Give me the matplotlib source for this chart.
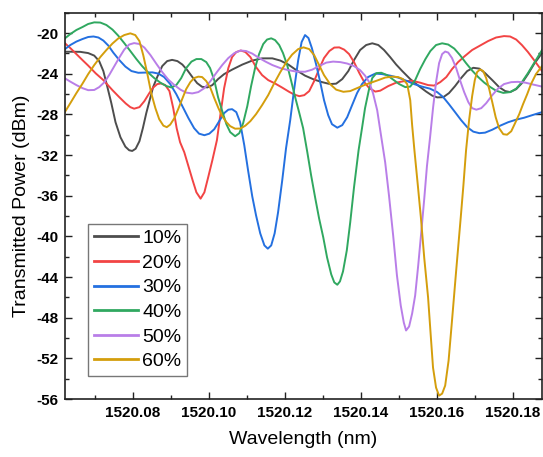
import numpy as np
import matplotlib
matplotlib.use("Agg")
import matplotlib.pyplot as plt
from matplotlib.ticker import MultipleLocator, FormatStrFormatter

plt.rcParams['font.family'] = ['Liberation Sans', 'DejaVu Sans']
plt.rcParams['axes.unicode_minus'] = False

BASE = 1520.0
labels = ["10%", "20%", "30%", "40%", "50%", "60%"]
colors = ["#4d4d4d", "#f24444", "#2470e0", "#30a860", "#b97ee8", "#d49e0c"]

# wavelength offsets from 1520 nm and transmitted power (dBm)
w10 = [0.0621, 0.0640, 0.0661, 0.0682, 0.0698, 0.0711, 0.0722, 0.0732, 0.0743, 0.0754, 0.0767, 0.0780,
       0.0790, 0.0798, 0.0807, 0.0817, 0.0826, 0.0835, 0.0844, 0.0853, 0.0864, 0.0877, 0.0890, 0.0903,
       0.0917, 0.0930, 0.0943, 0.0956, 0.0969, 0.0982, 0.0996, 0.1009, 0.1024, 0.1040, 0.1061, 0.1088,
       0.1114, 0.1140, 0.1167, 0.1188, 0.1209, 0.1230, 0.1253, 0.1277, 0.1298, 0.1319, 0.1335, 0.1351,
       0.1367, 0.1382, 0.1398, 0.1414, 0.1430, 0.1446, 0.1461, 0.1477, 0.1493, 0.1509, 0.1530, 0.1551,
       0.1572, 0.1588, 0.1601, 0.1617, 0.1632, 0.1648, 0.1664, 0.1680, 0.1696, 0.1712, 0.1727, 0.1746,
       0.1764, 0.1780, 0.1793, 0.1809, 0.1824, 0.1840, 0.1856, 0.1877]
p10 = [-21.84, -21.84, -21.85, -21.97, -22.22, -22.76, -23.74, -25.22, -26.90, -28.77, -30.25, -31.18,
       -31.53, -31.60, -31.38, -30.64, -29.36, -27.88, -26.60, -25.32, -24.31, -23.25, -22.76, -22.64,
       -22.76, -23.10, -23.65, -24.31, -24.93, -25.29, -25.35, -25.12, -24.53, -24.04, -23.60, -23.10,
       -22.71, -22.49, -22.49, -22.71, -23.10, -23.65, -24.19, -24.58, -24.83, -25.02, -24.98, -24.53,
       -23.74, -22.66, -21.67, -21.18, -21.01, -21.18, -21.67, -22.36, -23.10, -23.74, -24.53, -25.17,
       -25.76, -26.16, -26.33, -26.31, -25.91, -25.22, -24.43, -23.74, -23.42, -23.50, -23.94, -24.63,
       -25.32, -25.71, -25.81, -25.52, -24.93, -24.04, -23.05, -21.97]

w20 = [0.0621, 0.0635, 0.0651, 0.0667, 0.0682, 0.0702, 0.0722, 0.0746, 0.0764, 0.0781, 0.0793, 0.0803,
       0.0817, 0.0830, 0.0843, 0.0853, 0.0864, 0.0874, 0.0885, 0.0896, 0.0906, 0.0915, 0.0924, 0.0935,
       0.0946, 0.0957, 0.0967, 0.0978, 0.0988, 0.0998, 0.1009, 0.1021, 0.1030, 0.1040, 0.1051, 0.1061,
       0.1072, 0.1084, 0.1096, 0.1109, 0.1124, 0.1140, 0.1156, 0.1174, 0.1193, 0.1211, 0.1225, 0.1238,
       0.1251, 0.1264, 0.1277, 0.1290, 0.1303, 0.1317, 0.1330, 0.1343, 0.1356, 0.1369, 0.1382, 0.1396,
       0.1409, 0.1422, 0.1438, 0.1451, 0.1472, 0.1493, 0.1514, 0.1535, 0.1556, 0.1577, 0.1593, 0.1609,
       0.1625, 0.1640, 0.1656, 0.1672, 0.1693, 0.1714, 0.1735, 0.1756, 0.1777, 0.1793, 0.1809, 0.1824,
       0.1840, 0.1856, 0.1877]
p20 = [-21.01, -21.48, -22.07, -22.66, -23.20, -23.97, -24.63, -25.62, -26.31, -26.93, -27.29, -27.44,
       -27.29, -26.70, -25.91, -25.37, -25.02, -24.96, -25.12, -25.71, -27.39, -29.36, -30.74, -31.72,
       -33.10, -34.48, -35.67, -36.29, -35.67, -34.19, -32.51, -30.54, -28.08, -25.42, -23.45, -22.36,
       -21.87, -21.72, -21.87, -22.36, -23.35, -24.14, -24.63, -24.96, -25.37, -25.78, -26.06, -26.21,
       -26.11, -25.71, -24.73, -23.55, -22.46, -21.77, -21.43, -21.41, -21.63, -22.07, -22.86, -23.94,
       -24.83, -25.42, -25.76, -25.67, -25.22, -24.88, -24.73, -24.70, -24.88, -25.12, -25.17, -24.83,
       -24.33, -23.55, -22.86, -22.32, -21.67, -21.23, -20.79, -20.44, -20.30, -20.34, -20.64, -21.18,
       -21.87, -22.66, -23.74]

w30 = [0.0621, 0.0635, 0.0651, 0.0667, 0.0682, 0.0696, 0.0709, 0.0722, 0.0735, 0.0748, 0.0764, 0.0780,
       0.0796, 0.0814, 0.0832, 0.0851, 0.0867, 0.0882, 0.0898, 0.0914, 0.0930, 0.0946, 0.0961, 0.0974,
       0.0988, 0.1001, 0.1014, 0.1027, 0.1040, 0.1051, 0.1061, 0.1072, 0.1082, 0.1093, 0.1103, 0.1114,
       0.1124, 0.1135, 0.1146, 0.1155, 0.1164, 0.1173, 0.1182, 0.1193, 0.1203, 0.1214, 0.1224, 0.1235,
       0.1244, 0.1253, 0.1262, 0.1271, 0.1282, 0.1293, 0.1303, 0.1314, 0.1324, 0.1338, 0.1351, 0.1364,
       0.1377, 0.1390, 0.1403, 0.1419, 0.1438, 0.1456, 0.1477, 0.1498, 0.1519, 0.1540, 0.1561, 0.1582,
       0.1601, 0.1617, 0.1632, 0.1648, 0.1664, 0.1680, 0.1696, 0.1712, 0.1727, 0.1746, 0.1767, 0.1788,
       0.1809, 0.1830, 0.1851, 0.1877]
p30 = [-21.58, -21.18, -20.84, -20.59, -20.39, -20.34, -20.44, -20.74, -21.23, -21.92, -22.66, -23.30,
       -23.74, -23.91, -23.89, -23.87, -23.99, -24.33, -25.02, -26.01, -27.19, -28.37, -29.36, -29.90,
       -30.05, -29.90, -29.46, -28.67, -27.88, -27.54, -27.49, -27.78, -28.77, -31.03, -33.50, -36.06,
       -37.93, -39.70, -40.89, -41.21, -40.89, -39.70, -37.64, -34.48, -31.33, -28.57, -25.62, -22.66,
       -20.89, -20.20, -20.49, -21.48, -23.05, -24.83, -26.60, -28.08, -28.97, -29.31, -29.06, -28.28,
       -27.09, -25.91, -25.02, -24.33, -23.99, -24.04, -24.19, -24.38, -24.68, -25.02, -25.27, -25.47,
       -25.81, -26.31, -27.00, -27.78, -28.57, -29.26, -29.70, -29.85, -29.80, -29.51, -29.11, -28.77,
       -28.52, -28.33, -28.08, -27.78]

w40 = [0.0621, 0.0635, 0.0651, 0.0667, 0.0682, 0.0698, 0.0714, 0.0730, 0.0746, 0.0761, 0.0777, 0.0793,
       0.0809, 0.0824, 0.0840, 0.0856, 0.0872, 0.0888, 0.0901, 0.0914, 0.0927, 0.0940, 0.0954, 0.0967,
       0.0980, 0.0993, 0.1003, 0.1014, 0.1024, 0.1035, 0.1046, 0.1056, 0.1069, 0.1080, 0.1090, 0.1101,
       0.1111, 0.1122, 0.1132, 0.1143, 0.1153, 0.1164, 0.1174, 0.1185, 0.1195, 0.1206, 0.1216, 0.1227,
       0.1238, 0.1248, 0.1259, 0.1269, 0.1280, 0.1290, 0.1301, 0.1311, 0.1322, 0.1330, 0.1338, 0.1345,
       0.1353, 0.1363, 0.1372, 0.1382, 0.1394, 0.1403, 0.1411, 0.1421, 0.1430, 0.1441, 0.1454, 0.1469,
       0.1485, 0.1501, 0.1517, 0.1530, 0.1543, 0.1556, 0.1570, 0.1583, 0.1598, 0.1614, 0.1630, 0.1646,
       0.1661, 0.1677, 0.1693, 0.1709, 0.1725, 0.1741, 0.1756, 0.1775, 0.1793, 0.1809, 0.1824, 0.1840,
       0.1856, 0.1877]
p40 = [-20.52, -20.10, -19.70, -19.41, -19.11, -18.95, -18.97, -19.21, -19.66, -20.25, -20.99, -21.77,
       -22.56, -23.25, -23.89, -24.43, -24.88, -25.22, -25.35, -25.12, -24.43, -23.45, -22.81, -22.56,
       -22.56, -22.86, -23.45, -24.63, -26.31, -27.68, -28.97, -29.75, -30.15, -29.85, -28.87, -27.19,
       -25.22, -23.35, -22.07, -21.08, -20.64, -20.52, -20.69, -21.18, -21.97, -23.15, -24.63, -26.31,
       -27.88, -29.36, -31.72, -33.99, -36.26, -38.23, -40.10, -42.07, -43.74, -44.53, -44.76, -44.43,
       -43.45, -41.38, -38.62, -35.17, -31.53, -29.36, -27.39, -25.62, -24.43, -23.94, -23.91, -24.14,
       -24.58, -25.02, -25.32, -25.27, -24.63, -23.55, -22.56, -21.77, -21.18, -21.01, -21.13, -21.53,
       -22.17, -22.96, -23.69, -24.33, -24.88, -25.32, -25.67, -25.89, -25.81, -25.47, -24.83, -23.94,
       -22.96, -21.67]

w50 = [0.0621, 0.0635, 0.0651, 0.0667, 0.0682, 0.0698, 0.0711, 0.0725, 0.0738, 0.0751, 0.0764, 0.0777,
       0.0790, 0.0803, 0.0817, 0.0830, 0.0846, 0.0862, 0.0877, 0.0893, 0.0909, 0.0925, 0.0940, 0.0956,
       0.0972, 0.0988, 0.1004, 0.1019, 0.1035, 0.1051, 0.1067, 0.1083, 0.1098, 0.1114, 0.1130, 0.1149,
       0.1167, 0.1188, 0.1209, 0.1230, 0.1253, 0.1272, 0.1290, 0.1309, 0.1327, 0.1346, 0.1364, 0.1382,
       0.1398, 0.1411, 0.1422, 0.1432, 0.1443, 0.1453, 0.1464, 0.1474, 0.1485, 0.1495, 0.1505, 0.1513,
       0.1519, 0.1527, 0.1535, 0.1543, 0.1551, 0.1559, 0.1567, 0.1574, 0.1582, 0.1590, 0.1598, 0.1606,
       0.1614, 0.1622, 0.1630, 0.1640, 0.1651, 0.1661, 0.1672, 0.1683, 0.1693, 0.1704, 0.1717, 0.1730,
       0.1746, 0.1761, 0.1777, 0.1796, 0.1814, 0.1833, 0.1854, 0.1877]
p50 = [-24.46, -24.78, -25.12, -25.42, -25.62, -25.60, -25.32, -24.83, -24.09, -23.25, -22.41, -21.63,
       -21.13, -20.99, -21.08, -21.43, -22.17, -23.05, -23.84, -24.58, -25.12, -25.57, -25.86, -25.94,
       -25.81, -25.42, -24.73, -23.94, -23.15, -22.46, -21.97, -21.72, -21.77, -22.02, -22.41, -22.81,
       -23.15, -23.45, -23.65, -23.79, -23.81, -23.60, -23.25, -22.91, -22.81, -22.86, -23.00, -23.25,
       -23.65, -24.19, -24.83, -25.91, -27.59, -30.05, -32.71, -35.96, -39.90, -43.84, -46.80, -48.47,
       -49.26, -48.87, -47.59, -45.81, -42.86, -39.61, -36.26, -33.10, -30.34, -27.39, -24.83, -22.96,
       -22.07, -21.82, -21.92, -22.46, -23.45, -24.63, -25.81, -26.80, -27.39, -27.54, -27.39, -26.90,
       -26.11, -25.47, -25.02, -24.83, -24.80, -24.88, -25.07, -25.27]

w60 = [0.0621, 0.0635, 0.0651, 0.0667, 0.0682, 0.0698, 0.0714, 0.0730, 0.0746, 0.0761, 0.0777, 0.0793,
       0.0806, 0.0817, 0.0827, 0.0838, 0.0848, 0.0859, 0.0869, 0.0880, 0.0889, 0.0898, 0.0909, 0.0919,
       0.0930, 0.0940, 0.0951, 0.0961, 0.0972, 0.0982, 0.0993, 0.1004, 0.1014, 0.1025, 0.1035, 0.1046,
       0.1056, 0.1069, 0.1083, 0.1096, 0.1109, 0.1124, 0.1140, 0.1156, 0.1172, 0.1188, 0.1204, 0.1219,
       0.1235, 0.1249, 0.1264, 0.1277, 0.1290, 0.1303, 0.1319, 0.1335, 0.1354, 0.1372, 0.1390, 0.1409,
       0.1427, 0.1446, 0.1464, 0.1482, 0.1498, 0.1511, 0.1522, 0.1530, 0.1535, 0.1541, 0.1550, 0.1558,
       0.1567, 0.1577, 0.1584, 0.1590, 0.1598, 0.1606, 0.1614, 0.1622, 0.1631, 0.1640, 0.1651, 0.1663,
       0.1670, 0.1677, 0.1685, 0.1693, 0.1700, 0.1706, 0.1714, 0.1722, 0.1730, 0.1738, 0.1746, 0.1755,
       0.1764, 0.1775, 0.1785, 0.1796, 0.1806, 0.1817, 0.1827, 0.1838, 0.1848, 0.1861, 0.1877]
p60 = [-27.75, -26.90, -25.91, -24.98, -24.04, -23.15, -22.36, -21.67, -21.03, -20.54, -20.20, -20.03,
       -20.20, -20.79, -22.17, -24.04, -25.91, -27.39, -28.47, -29.11, -29.26, -29.01, -28.37, -27.49,
       -26.45, -25.52, -24.83, -24.43, -24.29, -24.33, -24.73, -25.42, -26.40, -27.39, -28.18, -28.77,
       -29.16, -29.41, -29.39, -29.11, -28.67, -27.98, -27.09, -26.11, -24.93, -23.84, -22.86, -22.12,
       -21.58, -21.41, -21.58, -22.17, -23.15, -24.14, -25.02, -25.57, -25.78, -25.71, -25.42, -25.12,
       -24.88, -24.63, -24.38, -24.29, -24.33, -24.53, -25.02, -26.60, -29.06, -31.53, -34.98, -38.13,
       -42.17, -46.01, -49.75, -52.91, -54.88, -55.67, -55.47, -54.68, -52.22, -48.28, -43.35, -38.13,
       -34.98, -31.53, -28.57, -26.21, -24.63, -23.84, -23.58, -23.74, -24.43, -25.52, -26.80, -28.28,
       -29.36, -29.95, -30.00, -29.66, -28.87, -27.98, -27.00, -26.01, -25.02, -24.04, -23.25]

series_w = [w10, w20, w30, w40, w50, w60]
series_p = [p10, p20, p30, p40, p50, p60]

fig = plt.figure(figsize=(5.43, 4.57), dpi=100)
ax = fig.add_axes([0.1197, 0.1269, 0.8785, 0.8453])

for w, p, c, lab in zip(series_w, series_p, colors, labels):
    ax.plot(BASE + np.array(w), p, color=c, lw=1.4, label=lab, solid_joinstyle='round')

ax.set_xlim(1520.0621, 1520.1877)
ax.set_ylim(-56, -18)
ax.xaxis.set_major_locator(MultipleLocator(0.02))
ax.xaxis.set_minor_locator(MultipleLocator(0.01))
ax.xaxis.set_major_formatter(FormatStrFormatter('%.2f'))
ax.yaxis.set_major_locator(MultipleLocator(4))
ax.yaxis.set_minor_locator(MultipleLocator(2))
ax.yaxis.set_major_formatter(FormatStrFormatter('%d'))

ax.tick_params(which='both', direction='in', top=True, right=True, color='#222222', width=1.0)
ax.tick_params(which='major', length=5, pad=5)
ax.tick_params(which='minor', length=3)
for lbl in ax.get_xticklabels() + ax.get_yticklabels():
    lbl.set_fontweight('bold')
    lbl.set_fontsize(11)
for s in ax.spines.values():
    s.set_linewidth(1.2)
    s.set_color('#222222')

ax.set_xlabel('Wavelength (nm)', fontsize=14, labelpad=8)
ax.set_ylabel('Transmitted Power (dBm)', fontsize=14, labelpad=4)

leg = ax.legend(loc='lower left', bbox_to_anchor=(0.048, 0.0595), borderaxespad=0,
                fontsize=14, handlelength=2.3, handletextpad=0.2, labelspacing=0.36,
                borderpad=0.3, fancybox=False, framealpha=1, edgecolor='#777777')
leg.get_frame().set_linewidth(1.0)
for line in leg.get_lines():
    line.set_linewidth(2.0)

fig.savefig('out.png', dpi=100)
